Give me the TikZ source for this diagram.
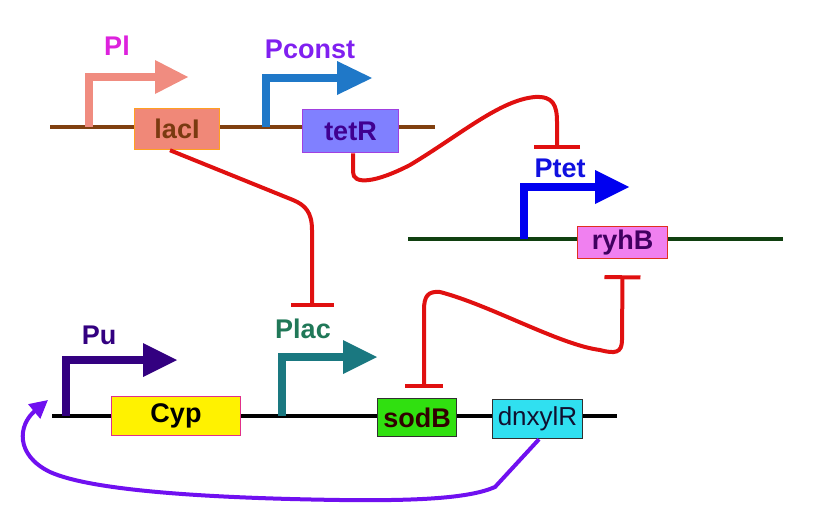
\documentclass[tikz,border=0pt]{standalone}
\usepackage{fontspec}
\setmainfont{Liberation Sans}
\usetikzlibrary{arrows.meta}
\definecolor{plpink}{HTML}{F08C80}
\definecolor{pltext}{HTML}{DD22DD}
\definecolor{lacfill}{HTML}{F08878}
\definecolor{lacedge}{HTML}{FFA020}
\definecolor{lactext}{HTML}{7A3A10}
\definecolor{topdna}{HTML}{804010}
\definecolor{consttext}{HTML}{8020F0}
\definecolor{constblue}{HTML}{1F78C8}
\definecolor{tetfill}{HTML}{8080FF}
\definecolor{tetedge}{HTML}{A040E0}
\definecolor{tettext}{HTML}{400090}
\definecolor{repred}{HTML}{E01010}
\definecolor{ptettext}{HTML}{1010E0}
\definecolor{tetblue}{HTML}{0000F0}
\definecolor{rightdna}{HTML}{104010}
\definecolor{ryhfill}{HTML}{F080F0}
\definecolor{ryhedge}{HTML}{E03020}
\definecolor{ryhtext}{HTML}{400060}
\definecolor{puindigo}{HTML}{330080}
\definecolor{cypedge}{HTML}{E0308A}
\definecolor{plactext}{HTML}{207858}
\definecolor{lacteal}{HTML}{1A7880}
\definecolor{sodfill}{HTML}{30E010}
\definecolor{sodtext}{HTML}{300000}
\definecolor{xylfill}{HTML}{30E0F0}
\definecolor{xyltext}{HTML}{101030}
\definecolor{boxedge}{HTML}{303030}
\definecolor{fbpurple}{HTML}{7010F0}
\begin{document}
\begin{tikzpicture}[x=1pt,y=-1pt,
    dna/.style={line width=3.5pt},
    prom/.style={line width=7.5pt},
    gene/.style={draw,line width=1.5pt,inner sep=0pt,font=\fontsize{27}{30}\selectfont\bfseries},
    lbl/.style={inner sep=0pt,font=\fontsize{27}{30}\selectfont\bfseries},
    repress/.style={draw=repred,line width=4pt},
    feedback/.style={draw=fbpurple,line width=4pt}]
      \useasboundingbox (0,0) rectangle (840,530);
      % three pieces of DNA
      \draw[dna,topdna] (50,127) -- (435,127);
      \draw[dna,rightdna] (408,239) -- (783,239);
      \draw[dna,black] (52,416) -- (617,416);
      % promoters: x, line, top, head start, tip, colour
      \foreach \px/\py/\ph/\pa/\pt/\pc in {89/127/77/155/188/plpink,
          266/127/78/337/372/constblue, 524/239/187/595/629/tetblue,
          66/416/360/143/177/puindigo, 282/416/357/343/377/lacteal}{
        \draw[prom,color=\pc] (\px,\py) |- (\pa,\ph);
        \fill[color=\pc] (\pa,\ph-17) -- (\pt,\ph) -- (\pa,\ph+17) -- cycle;
      }
      \node[lbl,text=pltext] (pl) at (117,46) {Pl};
      \node[lbl,text=consttext] (pconst) at (310,49) {Pconst};
      \node[lbl,text=ptettext] (ptet) at (560,168) {Ptet};
      \node[lbl,text=puindigo] (pu) at (99,335) {Pu};
      \node[lbl,text=plactext] (plac) at (303,329) {Plac};
      % genes
      \node[gene,fill=lacfill,draw=lacedge,text=lactext,minimum width=85pt,minimum height=41pt] (lacI) at (177,129) {lacI};
      \node[gene,fill=tetfill,draw=tetedge,text=tettext,minimum width=96pt,minimum height=43pt] (tetR) at (350.5,131) {tetR};
      \node[gene,fill=ryhfill,draw=ryhedge,text=ryhtext,minimum width=90pt,minimum height=32pt] (ryhB) at (622.5,242.5) {ryhB};
      \node[gene,fill=yellow,draw=cypedge,text=black,minimum width=129pt,minimum height=39pt] (cyp) at (176,416) {Cyp};
      \node[gene,fill=sodfill,draw=boxedge,text=sodtext,minimum width=79pt,minimum height=38pt] (sodB) at (417,417.5) {sodB};
      \node[gene,fill=xylfill,draw=boxedge,text=xyltext,minimum width=90pt,minimum height=39pt,
            font=\fontsize{26}{30}\selectfont] (dnxylR) at (537.5,419) {dnxylR};
      % repression
      \draw[repress,-{Bar[width=46pt]}] ([xshift=2.5pt]tetR.south) -- (353,172)
        .. controls (353,185) and (375,183) .. (410,165)
        .. controls (460,135) and (500,100) .. (535,97)
        .. controls (553,96) and (557,105) .. (557,122)
        -- ([xshift=-3pt,yshift=9pt]ptet.north);
      \draw[repress,-{Bar[width=43pt]}] ([xshift=-7pt]lacI.south) -- (293,200)
        .. controls (305,205) and (312,212) .. (312,230)
        -- ([xshift=9pt,yshift=12pt]plac.north);
      \draw[repress,{Bar[width=36pt]}-{Bar[width=38pt]}] ([yshift=-16pt]ryhB.south) -- (622,340)
        .. controls (622,353) and (615,354) .. (600,350)
        .. controls (560,345) and (490,305) .. (440,292)
        .. controls (428,291) and (424,296) .. (424,310)
        -- ([xshift=7pt,yshift=10pt]sodB.north);
      % feedback to Pu
      \coordinate (puin) at (48,400);
      \draw[feedback,-{Triangle[length=18pt,width=18pt]}] ([xshift=1.5pt]dnxylR.south) -- (495,487)
        .. controls (470,498) and (420,501) .. (340,500)
        .. controls (200,498) and (90,490) .. (50,472)
        .. controls (15,455) and (18,425) .. (puin);
\end{tikzpicture}
\end{document}
